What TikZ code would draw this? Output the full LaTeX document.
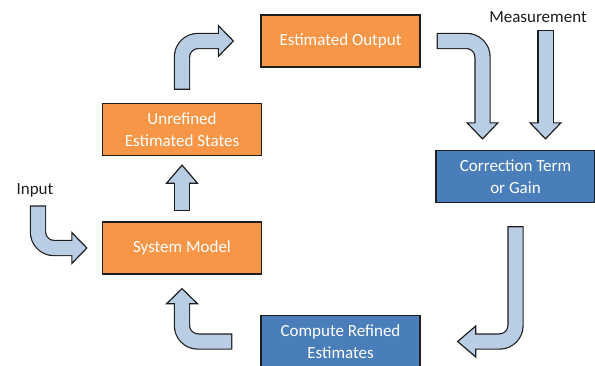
\documentclass[tikz,border=0pt]{standalone}
\usepackage{fontspec}
\setmainfont{Carlito}
\usetikzlibrary{calc}

\definecolor{boxorange}{HTML}{F79646}
\definecolor{boxblue}{HTML}{4A7EBB}
\definecolor{arrowblue}{HTML}{B9CDE5}
\definecolor{edgegray}{HTML}{1E1E1E}

% centre line ending at head base #2, tip at #3
\newcommand{\blockarrow}[3]{%
  \draw[shaftedge] #1 -- (#2);
  \draw[headtip] ($(#2)!15.4pt!90:(#3)$) -- (#3) -- ($(#2)!15.4pt!-90:(#3)$) -- cycle;
  \draw[shaftfill] #1 -- (#2);
}

\begin{document}
\begin{tikzpicture}[
    x=1pt, y=-1pt,
    box/.style={rectangle, draw=edgegray, line width=1.3pt, minimum width=159pt, minimum height=52pt,
                inner sep=0pt, align=center, text=white, font=\fontsize{17}{21.5}\selectfont},
    orangebox/.style={box, fill=boxorange},
    bluebox/.style={box, fill=boxblue},
    plain/.style={text=edgegray, font=\fontsize{17}{21.5}\selectfont},
    shaftedge/.style={edgegray, line width=16.4pt, rounded corners=16pt},
    shaftfill/.style={arrowblue, line width=14pt, rounded corners=16pt, shorten <=1.2pt, shorten >=-3pt},
    headtip/.style={fill=arrowblue, draw=edgegray, line width=1.2pt}
]
    \useasboundingbox (0,0) rectangle (595,365);

    \node[orangebox] (out) at (340.5,41) {Estimated Output};
    \node[orangebox] (unref) at (182,129.5) {Unrefined\\Estimated States};
    \node[orangebox] (sys) at (182,248) {System Model};
    \node[bluebox] (corr) at (515.5,176.5) {Correction Term\\or Gain};
    \node[bluebox] (comp) at (340.5,341.5) {Compute Refined\\Estimates};

    \node[plain] (meas) at (538,17) {Measurement};
    \node[plain] (input) at (35,190) {Input};

    % unrefined -> output
    \coordinate (a1) at ($(unref.north)+(0,-13)$);
    \coordinate (a3) at ($(out.west)+(-42,0)$);
    \coordinate (a4) at ($(out.west)+(-27,0)$);
    \blockarrow{(a1) -- (a1 |- out.west)}{a3}{a4}

    % output -> correction
    \coordinate (b1) at ($(out.east)+(16,0)$);
    \coordinate (b3) at ($(corr.north)+(-33,-27)$);
    \coordinate (b4) at ($(corr.north)+(-33,-11)$);
    \blockarrow{(b1) -- (b3 |- b1)}{b3}{b4}

    % measurement -> correction
    \coordinate (c3) at ($(corr.north)+(30,-27)$);
    \coordinate (c4) at ($(corr.north)+(30,-11)$);
    \coordinate (c1) at ($(c3 |- meas.south)+(0,4)$);
    \blockarrow{(c1)}{c3}{c4}

    % correction -> refined estimates
    \coordinate (d1) at ($(corr.south)+(0,23)$);
    \coordinate (d3) at ($(comp.east)+(55,0)$);
    \coordinate (d4) at ($(comp.east)+(37,0)$);
    \blockarrow{(d1) -- (d1 |- comp.east)}{d3}{d4}

    % refined estimates -> system model
    \coordinate (e1) at ($(comp.west)+(-28,0)$);
    \coordinate (e3) at ($(sys.south)+(0,29)$);
    \coordinate (e4) at ($(sys.south)+(0,14)$);
    \blockarrow{(e1) -- (e3 |- e1)}{e3}{e4}

    % system model -> unrefined
    \coordinate (f1) at ($(sys.north)+(0,-10)$);
    \coordinate (f3) at ($(unref.south)+(0,27)$);
    \coordinate (f4) at ($(unref.south)+(0,9)$);
    \blockarrow{(f1)}{f3}{f4}

    % input -> system model
    \coordinate (g1) at ($(input.south)+(3,5)$);
    \coordinate (g3) at ($(sys.west)+(-30,0)$);
    \coordinate (g4) at ($(sys.west)+(-15,0)$);
    \blockarrow{(g1) -- (g1 |- sys.west)}{g3}{g4}
\end{tikzpicture}
\end{document}
